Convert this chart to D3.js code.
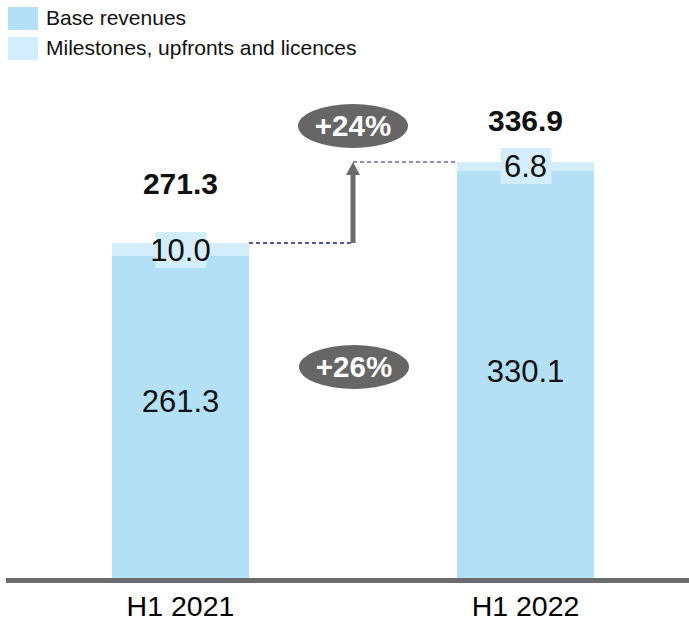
<!DOCTYPE html>
<html><head><meta charset="utf-8">
<script src="https://cdn.jsdelivr.net/npm/d3@7"></script>
<style>body{margin:0;background:#fff}svg{display:block}text{font-family:"Liberation Sans",Arial,sans-serif}</style>
</head><body><svg id="c" width="689" height="621"></svg>
<script>
const categories = ["H1 2021", "H1 2022"];
const baseRevenues = [261.3, 330.1];
const milestones = [10.0, 6.8];
const totals = [271.3, 336.9];
const seriesNames = ["Base revenues", "Milestones, upfronts and licences"];
const growthLabels = ["+24%", "+26%"];

const colors = {base: "#b3e0f5", mile: "#d4edfa", grey: "#666666", axis: "#6b6b6b"};
const svg = d3.select("#c");
const baseY = 578;
const x = d3.scaleBand().domain(categories).range([8.5, 697.5]).paddingInner(0.603).paddingOuter(0.3);
const y = d3.scaleLinear().domain([0, 336.9]).range([baseY, 162]);

// legend
const leg = svg.append("g");
seriesNames.forEach((n, i) => {
  leg.append("rect").attr("x", 8).attr("y", 7 + i * 30).attr("width", 30).attr("height", 23)
    .attr("fill", i === 0 ? colors.base : colors.mile);
  leg.append("text").attr("x", 46).attr("y", 18 + i * 30).attr("dy", "0.35em")
    .attr("font-size", 21).attr("fill", "#111").text(n);
});

// bars
const bx = i => x(categories[i]);
categories.forEach((c, i) => {
  svg.append("rect").attr("x", bx(i)).attr("width", x.bandwidth())
    .attr("y", y(baseRevenues[i])).attr("height", baseY - y(baseRevenues[i])).attr("fill", colors.base);
  svg.append("rect").attr("x", bx(i)).attr("width", x.bandwidth())
    .attr("y", y(totals[i])).attr("height", y(baseRevenues[i]) - y(totals[i])).attr("fill", colors.mile);
});

// axis baseline
svg.append("line").attr("x1", 6).attr("x2", 689).attr("y1", baseY + 2.5).attr("y2", baseY + 2.5)
  .attr("stroke", colors.axis).attr("stroke-width", 5);
const xAxis = d3.axisBottom(x).tickSize(0).tickPadding(0);
const ax = svg.append("g").attr("transform", `translate(0,${baseY + 28})`).call(xAxis);
ax.select(".domain").remove();
ax.selectAll("text").attr("font-size", 28.5).attr("fill", "#000").attr("dy", "0.35em")
  .style("font-family", '"Liberation Sans",Arial,sans-serif');

const cx = i => bx(i) + x.bandwidth() / 2;

// base value labels
const baseLabelShift = [-16, -3];
categories.forEach((c, i) => {
  svg.append("text").attr("x", cx(i)).attr("y", (y(baseRevenues[i]) + baseY) / 2 + baseLabelShift[i])
    .attr("dy", "0.35em").attr("text-anchor", "middle").attr("font-size", 31).attr("fill", "#111")
    .text(d3.format(".1f")(baseRevenues[i]));
});

// milestone labels with boxes
const mileCenter = [250, 166];
categories.forEach((c, i) => {
  svg.append("rect").attr("x", cx(i) - 25).attr("y", mileCenter[i] - 18).attr("width", 51).attr("height", 36)
    .attr("fill", colors.mile);
  svg.append("text").attr("x", cx(i)).attr("y", mileCenter[i]).attr("dy", "0.35em")
    .attr("text-anchor", "middle").attr("font-size", 31).attr("fill", "#111")
    .text(d3.format(".1f")(milestones[i]));
});

// totals
const totalOffset = [60, 42];
categories.forEach((c, i) => {
  svg.append("text").attr("x", cx(i)).attr("y", y(totals[i]) - totalOffset[i]).attr("dy", "0.35em")
    .attr("text-anchor", "middle").attr("font-size", 30).attr("font-weight", "bold").attr("fill", "#111")
    .text(d3.format(".1f")(totals[i]));
});

// dashed connectors and arrow
const ax0 = 353;
svg.append("line").attr("x1", bx(0) + x.bandwidth()).attr("x2", ax0).attr("y1", y(totals[0])).attr("y2", y(totals[0]))
  .attr("stroke", "#1c1c78").attr("stroke-width", 1.3).attr("stroke-dasharray", "4,3");
svg.append("line").attr("x1", ax0).attr("x2", bx(1)).attr("y1", y(totals[1])).attr("y2", y(totals[1]))
  .attr("stroke", "#6666aa").attr("stroke-width", 1.3).attr("stroke-dasharray", "4,3");
svg.append("line").attr("x1", ax0).attr("x2", ax0).attr("y1", y(totals[0])).attr("y2", y(totals[1]) + 10)
  .attr("stroke", colors.axis).attr("stroke-width", 5);
const ty = y(totals[1]);
svg.append("path").attr("d", `M${ax0},${ty} L${ax0 - 7},${ty + 13} L${ax0 + 7},${ty + 13} Z`).attr("fill", colors.axis);

// growth ellipses
const ellCenters = [[353, 126], [354, 367]];
growthLabels.forEach((g, i) => {
  svg.append("ellipse").attr("cx", ellCenters[i][0]).attr("cy", ellCenters[i][1]).attr("rx", 55).attr("ry", 22)
    .attr("fill", colors.grey);
  svg.append("text").attr("x", ellCenters[i][0]).attr("y", ellCenters[i][1]).attr("dy", "0.35em")
    .attr("text-anchor", "middle").attr("font-size", 29.5).attr("font-weight", "bold").attr("fill", "#fff").text(g);
});
</script></body></html>
